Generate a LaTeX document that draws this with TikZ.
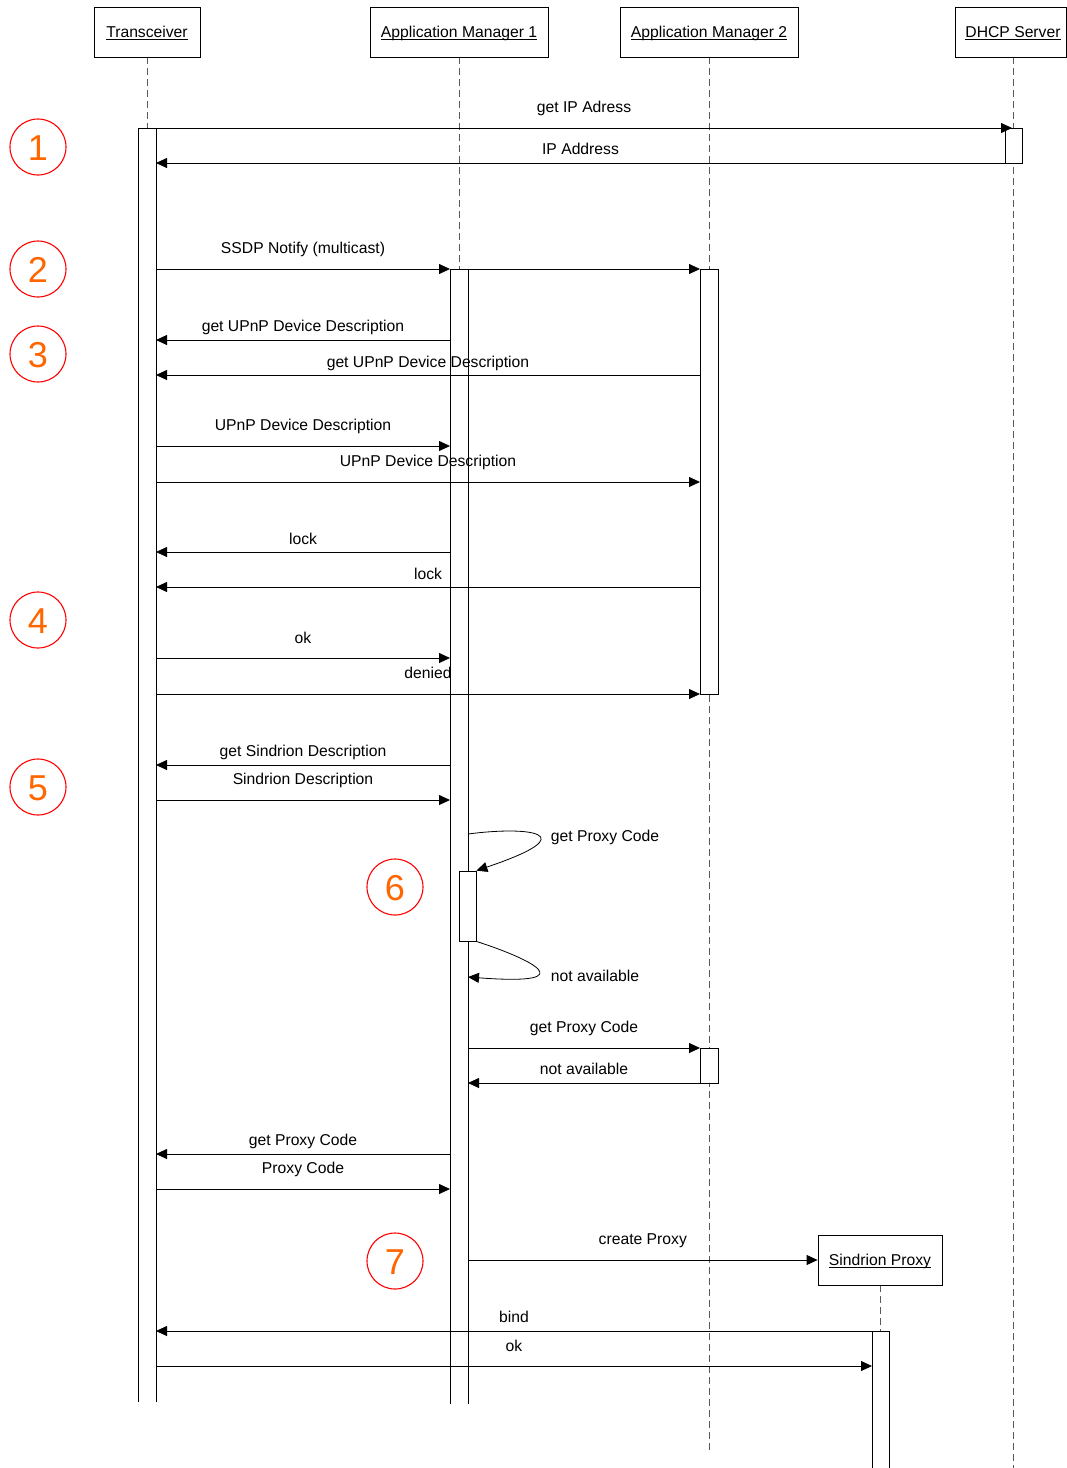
\documentclass[tikz,border=0pt]{standalone}
\usepackage{fontspec}
\setmainfont{Liberation Sans}
\usetikzlibrary{arrows.meta,calc}

% underline at a fixed depth below the baseline
\newcommand\hdrline[1]{\setbox0\hbox{#1}\rlap{\rule[-2.8pt]{\wd0}{0.8pt}}\box0}

% message arrow: y, from, to, label, label lift
\newcommand\msgline[5]{%
  \draw[msg] ($(#2)+(0,#1)$) -- node[lbl, yshift=#5] {#4} ($(#3)+(0,#1)$);}

\begin{document}
\begin{tikzpicture}[x=1pt,y=-1pt,
  lbl/.style={font=\fontsize{15.7}{18}\selectfont, inner sep=0pt, text height=11.2pt, text depth=3.3pt},
  head/.style={draw, line width=0.8pt, minimum height=50pt, inner sep=0pt,
    font=\fontsize{15.7}{18}\selectfont, text height=10.6pt, text depth=0pt},
  life/.style={line width=0.8pt, black!65, dash pattern=on 7pt off 4pt},
  bar/.style={draw, fill=white, line width=0.8pt},
  msg/.style={line width=0.8pt, -{Triangle[length=11pt,width=10pt]}},
  num/.style={circle, draw=red, line width=1.1pt, minimum size=56pt, inner sep=0pt,
    text=orange!80!red, font=\fontsize{36}{36}\selectfont, text height=26pt, text depth=0pt}
]
\useasboundingbox (0,0) rectangle (1067,1468);

% bar edges of the participants
\coordinate (trR)  at (156,0);
\coordinate (am1L) at (450,0);
\coordinate (am1R) at (468,0);
\coordinate (am2L) at (700,0);
\coordinate (dhL)  at (1005,0);
\coordinate (dhC)  at (1012,0);
\coordinate (spL)  at (872,0);

% lifelines
\draw[life] (147,57) -- (147,128);
\draw[life] (459,57) -- (459,269);
\draw[life] (709,57) -- (709,1450);
\draw[life] (1013,57) -- (1013,1468);
\draw[life] (880,1285) -- (880,1331);

% activation bars
\fill[white] (138,128) rectangle (156,1402);
\draw[line width=0.8pt] (138,1402) -- (138,128) -- (156,128) -- (156,1402);
\fill[white] (450,269) rectangle (468,1404);
\draw[line width=0.8pt] (450,1404) -- (450,269) -- (468,269) -- (468,1404);
\node[bar, minimum width=17pt, minimum height=35pt, inner sep=0pt] (dhb) at (1013.5,145.5) {};
\node[bar, minimum width=18pt, minimum height=425pt, inner sep=0pt] (am2a) at (709,481.5) {};
\node[bar, minimum width=18pt, minimum height=35pt, inner sep=0pt] (am2b) at (709,1065.5) {};
\node[bar, minimum width=17pt, minimum height=70pt, inner sep=0pt] (act) at (467.5,906) {};
\fill[white] (872,1331) rectangle (889,1468);
\draw[line width=0.8pt] (872,1468) -- (872,1331) -- (889,1331) -- (889,1468);

% participants
\node[head, minimum width=106pt] (tr) at (147,32) {\hdrline{Transceiver}};
\node[head, minimum width=178pt] (am1) at (459,32) {\hdrline{Application Manager 1}};
\node[head, minimum width=178pt] (am2) at (709,32) {\hdrline{Application Manager 2}};
\draw[line width=0.8pt] (955,7) rectangle (1066,57);
\node[head, draw=none] (dh) at (1013,32) {\hdrline{DHCP Server}};

% messages
\msgline{128}{trR}{dhC}{get IP Adress}{19pt}
\msgline{163}{dhL}{trR}{IP Address}{12pt}
\msgline{269}{trR}{am1L}{SSDP Notify (multicast)}{19pt}
\draw[msg] ($(am1R)+(0,269)$) -- ($(am2L)+(0,269)$);
\msgline{340}{am1L}{trR}{get UPnP Device Description}{12pt}
\msgline{375}{am2L}{trR}{get UPnP Device Description}{11pt}
\msgline{446}{trR}{am1L}{UPnP Device Description}{19pt}
\msgline{482}{trR}{am2L}{UPnP Device Description}{19pt}
\msgline{552}{am1L}{trR}{lock}{11pt}
\msgline{587}{am2L}{trR}{lock}{11pt}
\msgline{658}{trR}{am1L}{ok}{18pt}
\msgline{694}{trR}{am2L}{denied}{19pt}
\msgline{765}{am1L}{trR}{get Sindrion Description}{12pt}
\msgline{800}{trR}{am1L}{Sindrion Description}{19pt}

% self call on Application Manager 1
\coordinate (sc1) at (468,834);
\coordinate (sc2) at (468,977);
\draw[msg] (sc1) .. controls (528,826) and (588,833) .. (act.north east);
\node[lbl] (l1) at (605,838) {get Proxy Code};
\draw[msg] (act.south east) .. controls (528,958) and (588,986) .. (sc2);
\node[lbl] (l2) at (595,978) {not available};

\msgline{1048}{am1R}{am2L}{get Proxy Code}{19pt}
\msgline{1083}{am2L}{am1R}{not available}{12pt}
\msgline{1154}{am1L}{trR}{get Proxy Code}{12pt}
\msgline{1189}{trR}{am1L}{Proxy Code}{19pt}

% proxy creation
\node[head, minimum width=124pt] (sp) at (880,1260) {\hdrline{Sindrion Proxy}};
\draw[msg] ($(am1R)+(0,1260)$) -- node[lbl, yshift=19pt] {create Proxy} (sp.west);
\draw[line width=0.8pt] (872,1331) -- (889,1331);
\msgline{1331}{spL}{trR}{bind}{12pt}
\msgline{1366}{trR}{spL}{ok}{18pt}

% step markers
\node[num] (n1) at (38,147) {1};
\node[num] (n2) at (38,269) {2};
\node[num] (n3) at (38,354) {3};
\node[num] (n4) at (38,620) {4};
\node[num] (n5) at (38,787) {5};
\node[num] (n6) at (395,887) {6};
\node[num] (n7) at (395,1261) {7};
\end{tikzpicture}
\end{document}
